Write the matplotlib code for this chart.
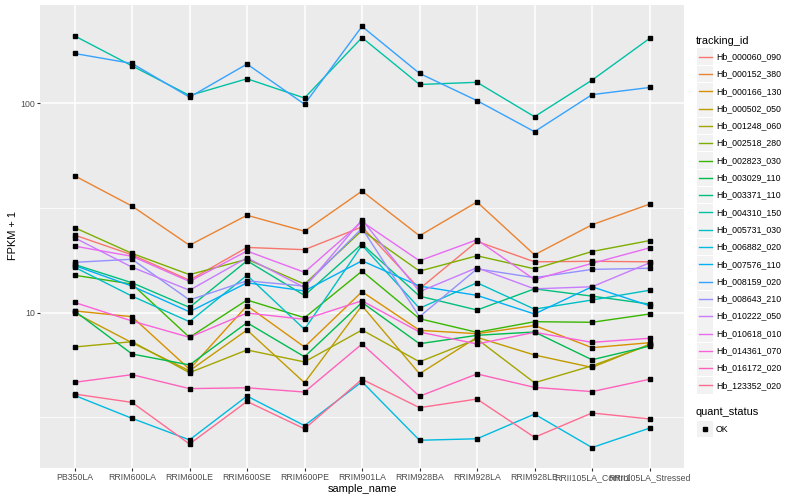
import numpy as np
import matplotlib.pyplot as plt
from matplotlib.patches import Rectangle
from matplotlib.lines import Line2D
from matplotlib.ticker import FixedLocator, FixedFormatter, NullFormatter

plt.rcParams['font.family'] = ['Liberation Sans', 'DejaVu Sans']

samples = ['PB350LA', 'RRIM600LA', 'RRIM600LE', 'RRIM600SE', 'RRIM600PE', 'RRIM901LA',
           'RRIM928BA', 'RRIM928LA', 'RRIM928LE', 'RRII105LA_Control', 'RRII105LA_Stressed']

tracking_ids = ['Hb_000060_090', 'Hb_000152_380', 'Hb_000166_130', 'Hb_000502_050',
                'Hb_001248_060', 'Hb_002518_280', 'Hb_002823_030', 'Hb_003029_110',
                'Hb_003371_110', 'Hb_004310_150', 'Hb_005731_030', 'Hb_006882_020',
                'Hb_007576_110', 'Hb_008159_020', 'Hb_008643_210', 'Hb_010222_050',
                'Hb_010618_010', 'Hb_014361_070', 'Hb_016172_020', 'Hb_123352_020']

# ggplot2 hue palette, 20 levels
colors = ['#F8766D', '#EA8331', '#D89000', '#C09B00', '#A3A500', '#7CAE00', '#39B600',
          '#00BB4E', '#00BF7D', '#00C1A3', '#00BFC4', '#00BAE0', '#00B0F6', '#35A2FF',
          '#9590FF', '#C77CFF', '#E76BF3', '#FA62DB', '#FF62BC', '#FF6C91']

# FPKM + 1 per sample
hb_000060_090 = [23.5, 18.9, 14.3, 20.5, 20.0, 25.7, 13.0, 21.9, 17.5, 17.6, 17.5]
hb_000152_380 = [45.1, 32.3, 21.0, 29.2, 24.5, 38.1, 23.3, 33.8, 18.9, 26.3, 33.0]
hb_000166_130 = [10.2, 9.57, 5.37, 10.8, 6.86, 12.6, 8.24, 7.94, 8.69, 6.81, 7.19]
hb_000502_050 = [10.0, 7.19, 5.28, 8.27, 4.63, 10.8, 5.11, 7.63, 6.28, 5.48, 7.07]
hb_001248_060 = [6.86, 7.27, 5.17, 6.64, 5.82, 8.27, 5.83, 7.49, 4.63, 5.58, 7.01]
hb_002518_280 = [25.5, 19.2, 15.2, 18.0, 13.7, 24.7, 15.8, 18.7, 16.2, 19.6, 22.1]
hb_002823_030 = [15.1, 13.7, 7.63, 11.5, 9.46, 15.8, 9.36, 8.06, 9.06, 9.0, 9.86]
hb_003029_110 = [10.2, 6.35, 5.63, 8.96, 6.16, 11.2, 7.11, 7.80, 8.09, 5.96, 6.93]
hb_003371_110 = [17.0, 13.9, 10.6, 17.7, 12.1, 21.3, 12.0, 10.3, 13.0, 12.0, 11.0]
hb_004310_150 = [210, 151, 109, 131, 106, 206, 123, 126, 86.3, 129, 204]
hb_005731_030 = [16.5, 12.0, 9.06, 15.1, 8.33, 21.0, 10.5, 13.9, 10.4, 11.5, 12.8]
hb_006882_020 = [4.03, 3.13, 2.47, 4.0, 2.89, 4.68, 2.46, 2.50, 3.28, 2.27, 2.81]
hb_007576_110 = [16.8, 13.4, 10.1, 13.9, 12.7, 17.7, 13.4, 12.1, 9.86, 13.3, 10.8]
hb_008159_020 = [173, 155, 107, 154, 99, 233, 139, 103, 73.2, 110, 119]
hb_008643_210 = [17.4, 18.0, 11.5, 14.2, 13.4, 25.3, 9.57, 16.2, 14.7, 16.1, 16.3]
hb_010222_050 = [22.8, 16.5, 12.8, 18.3, 13.2, 27.8, 12.6, 16.4, 13.0, 13.3, 17.3]
hb_010618_010 = [20.8, 18.6, 14.1, 19.7, 15.6, 27.2, 17.7, 22.3, 14.4, 17.2, 20.4]
hb_014361_070 = [11.2, 9.13, 7.63, 9.97, 9.30, 11.4, 8.09, 7.09, 8.06, 7.22, 7.55]
hb_016172_020 = [4.65, 5.06, 4.34, 4.38, 4.18, 7.09, 3.99, 5.10, 4.40, 4.20, 4.81]
hb_123352_020 = [4.09, 3.73, 2.36, 3.77, 2.79, 4.81, 3.52, 3.87, 2.54, 3.32, 3.11]

series = [hb_000060_090, hb_000152_380, hb_000166_130, hb_000502_050, hb_001248_060,
          hb_002518_280, hb_002823_030, hb_003029_110, hb_003371_110, hb_004310_150,
          hb_005731_030, hb_006882_020, hb_007576_110, hb_008159_020, hb_008643_210,
          hb_010222_050, hb_010618_010, hb_014361_070, hb_016172_020, hb_123352_020]

W, H = 800, 500
def fx(x): return x / W
def fy(y): return 1 - y / H

fig = plt.figure(figsize=(8, 5), dpi=100)
ax = fig.add_axes([fx(40), fy(468), 644 / W, 463 / H])
ax.set_facecolor('#EBEBEB')
for s in ax.spines.values():
    s.set_visible(False)

ax.set_yscale('log')
xs = np.arange(len(samples))
for vals, col in zip(series, colors):
    ax.plot(xs, vals, color=col, lw=1.0, zorder=3)
for vals in series:
    ax.plot(xs, vals, ls='none', marker='s', ms=2.2, color='black', zorder=4)

ax.set_xlim(-0.6, len(samples) - 0.4)
ax.set_ylim(1.813, 294.8)

ax.set_xticks(xs)
ax.set_xticklabels(samples)
ax.yaxis.set_major_locator(FixedLocator([10, 100]))
ax.yaxis.set_major_formatter(FixedFormatter(['10', '100']))
ax.yaxis.set_minor_locator(FixedLocator([10 ** 0.5, 10 ** 1.5]))
ax.yaxis.set_minor_formatter(NullFormatter())
ax.set_axisbelow(True)
ax.grid(which='major', color='white', lw=1.1)
ax.grid(which='minor', axis='y', color='white', lw=0.55)
ax.tick_params(which='major', length=2, width=0.8, color='#333333',
               labelcolor='#4D4D4D', labelsize=6.3, pad=1.6)
ax.tick_params(which='minor', length=0)

fig.text(fx(362), fy(489), 'sample_name', ha='center', va='center', fontsize=7.9)
fig.text(fx(13), fy(236), 'FPKM + 1', ha='center', va='center', rotation=90, fontsize=7.9)

# legend: tracking_id
fig.text(fx(696), fy(41), 'tracking_id', ha='left', va='center', fontsize=7.9)
for i, (name, col) in enumerate(zip(tracking_ids, colors)):
    yc = 56.7 + i * 17.3
    fig.add_artist(Rectangle((fx(697), fy(yc + 8.3)), 16 / W, 16.6 / H,
                             transform=fig.transFigure, facecolor='#F2F2F2', edgecolor='none'))
    fig.add_artist(Line2D([fx(698.5), fx(711.5)], [fy(yc), fy(yc)],
                          transform=fig.transFigure, color=col, lw=1.0))
    fig.text(fx(716.5), fy(yc), name, ha='left', va='center', fontsize=6.3)

# legend: quant_status
fig.text(fx(696), fy(412), 'quant_status', ha='left', va='center', fontsize=7.9)
fig.add_artist(Rectangle((fx(697), fy(429 + 8.3)), 16 / W, 16.6 / H,
                         transform=fig.transFigure, facecolor='#F2F2F2', edgecolor='none'))
fig.add_artist(Line2D([fx(705)], [fy(429)], transform=fig.transFigure,
                      ls='none', marker='s', ms=2.2, color='black'))
fig.text(fx(716), fy(429), 'OK', ha='left', va='center', fontsize=6.3)

fig.savefig('out.png', dpi=100)
